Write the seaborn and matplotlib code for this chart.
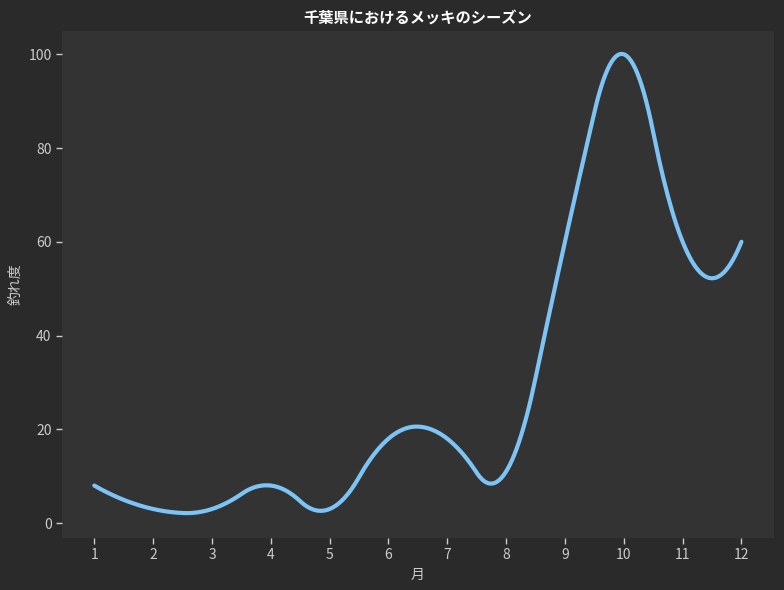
import numpy as np
import pandas as pd
import matplotlib
matplotlib.use("Agg")
import matplotlib.pyplot as plt
import seaborn as sns

# 月ごとの釣れ度
months = [1, 2, 3, 4, 5, 6, 7, 8, 9, 10, 11, 12]
catch = [8, 3, 3, 8, 3, 18, 18, 11, 60, 100, 60, 60]


def basis(t, k, xs):
    # Cox-de Boor
    xs = np.asarray(xs, float)
    nb = len(t) - 1
    N = np.zeros((len(xs), nb))
    for i in range(nb):
        if t[i] < t[i + 1]:
            N[:, i] = (xs >= t[i]) & (xs < t[i + 1])
    last = np.max(np.nonzero(np.diff(t) > 0))
    N[xs == t[-1], last] = 1
    for d in range(1, k + 1):
        M = np.zeros((len(xs), len(t) - d - 1))
        for i in range(len(t) - d - 1):
            a = t[i + d] - t[i]
            b = t[i + d + 1] - t[i + 1]
            if a > 0:
                M[:, i] += (xs - t[i]) / a * N[:, i]
            if b > 0:
                M[:, i] += (t[i + d + 1] - xs) / b * N[:, i + 1]
        N = M
    return N


def smooth(x, y, k=2, num=300):
    # like scipy make_interp_spline (quadratic: knots at midpoints)
    x = np.asarray(x, float)
    mid = (x[1:] + x[:-1]) / 2
    t = np.r_[(x[0],) * (k + 1), mid[1:-1], (x[-1],) * (k + 1)]
    c = np.linalg.solve(basis(t, k, x), np.asarray(y, float))
    xs = np.linspace(x[0], x[-1], num)
    return xs, basis(t, k, xs) @ c


xs, ys = smooth(months, catch)
df = pd.DataFrame({"月": xs, "釣れ度": ys})

sns.set_theme(style="dark")
plt.rcParams["font.family"] = ["Noto Sans CJK JP", "DejaVu Sans"]
plt.rcParams.update({
    "figure.facecolor": "#2a2a2a",
    "axes.facecolor": "#333333",
    "text.color": "white",
    "axes.labelcolor": "#cccccc",
    "xtick.color": "#cccccc",
    "ytick.color": "#cccccc",
})

fig, ax = plt.subplots(figsize=(7.84, 5.9), dpi=100)
sns.lineplot(data=df, x="月", y="釣れ度", color="#7cc4f5", linewidth=3, ax=ax)
ax.set_xticks(months)
ax.set_ylim(-3.2, 104.9)
ax.set_title("千葉県におけるメッキのシーズン", fontweight="bold", color="white", fontsize=11)
ax.tick_params(axis="both", length=4, width=1, colors="#cccccc", labelsize=10, bottom=True, left=True)
for s in ax.spines.values():
    s.set_visible(False)
ax.set_xlabel("月", fontsize=10)
ax.set_ylabel("釣れ度", fontsize=10)
fig.subplots_adjust(left=0.079, right=0.987, top=0.947, bottom=0.088)
plt.savefig("out.png", dpi=100, facecolor=fig.get_facecolor())
